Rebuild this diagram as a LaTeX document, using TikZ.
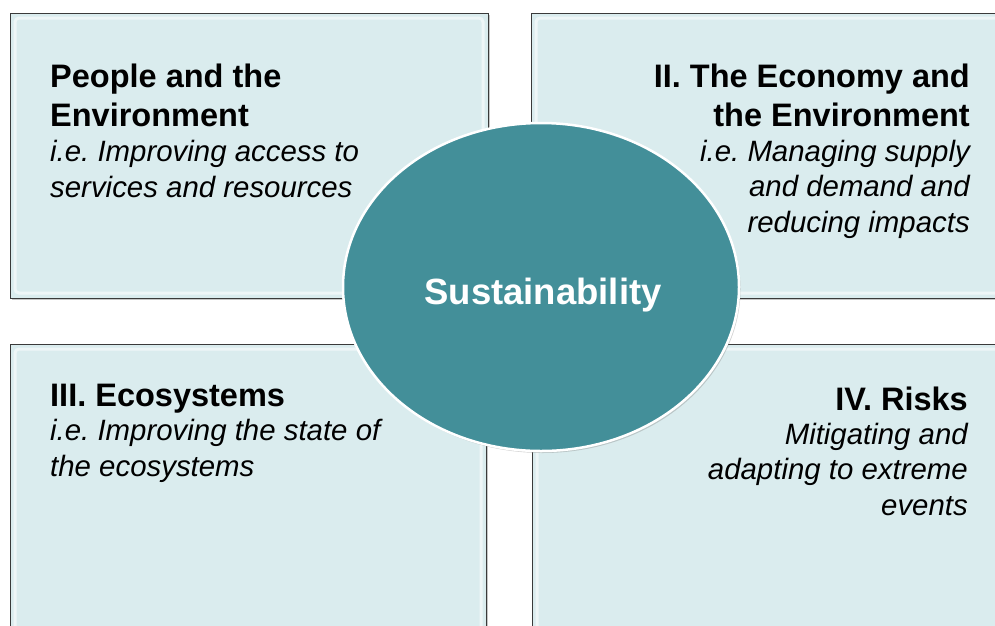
\documentclass[tikz,border=0pt]{standalone}
\usepackage{fontspec}
\setmainfont{Liberation Sans}
\usepackage{tikz}
\usetikzlibrary{positioning,shapes.geometric,shadows}
\definecolor{quadfill}{HTML}{DAECEE}
\definecolor{quadline}{HTML}{3A3A3A}
\definecolor{coreteal}{HTML}{438F99}

\begin{document}
\begin{tikzpicture}[
	x=1pt, y=-1pt,
	QuadBox/.style={draw=quadline,fill=quadfill,line width=1.2pt,inner sep=0pt,
		anchor=north west,
		drop shadow={shadow xshift=1.5pt,shadow yshift=-1.5pt,opacity=0.45}},
	QuadGlow/.style={draw=white,line width=3pt,opacity=0.55,rounded corners=4pt},
	CoreEllipse/.style={ellipse,draw=white,fill=coreteal,line width=2.5pt,inner sep=0pt,
		minimum width=396pt,minimum height=328pt,
		drop shadow={shadow xshift=1.5pt,shadow yshift=-2pt,opacity=0.35}},
	HeadText/.style={font=\frenchspacing\bfseries\fontsize{32.5}{38.7}\selectfont,inner sep=0pt},
	SubText/.style={font=\frenchspacing\itshape\fontsize{29.4}{35.2}\selectfont,inner sep=0pt},
	every node/.style={scale=1}
	]
	\useasboundingbox (0,0) rectangle (995,625);
	\clip (0,0) rectangle (995,625);
	
	% the four quadrants
	\node[QuadBox,minimum width=478pt,minimum height=285pt] (PeopleBox) at (10,13) {};
	\node[QuadBox,minimum width=475pt,minimum height=285pt] (EconomyBox) at (531,13) {};
	\node[QuadBox,minimum width=476pt,minimum height=300pt] (EcoBox) at (10,344) {};
	\node[QuadBox,minimum width=475pt,minimum height=300pt] (RisksBox) at (532,344) {};
	
	% soft bevel inside each quadrant
	\draw[QuadGlow] (15,18) rectangle (483,293);
	\draw[QuadGlow] (536,18) rectangle (1010,293);
	\draw[QuadGlow] (15,349) rectangle (481,650);
	\draw[QuadGlow] (537,349) rectangle (1010,650);
	
	% I.  (base = baseline of the last line)
	\node[HeadText,anchor=base west,align=left] (PeopleHead) at (50,126)
		{People and the\\Environment};
	\node[SubText,anchor=base west,align=left] (PeopleSub) at (50,197)
		{i.e. Improving access to\\services and resources};
	
	% II.
	\node[HeadText,anchor=base east,align=right] (EconomyHead) at (970,126)
		{II. The Economy and\\the Environment};
	\node[SubText,anchor=base east,align=right] (EconomySub) at (970,232)
		{i.e. Managing supply\\and demand and\\reducing impacts};
	
	% III.
	\node[HeadText,anchor=base west,align=left] (EcoHead) at (50,406)
		{III. Ecosystems};
	\node[SubText,anchor=base west,align=left] (EcoSub) at (50,476)
		{i.e. Improving the state of\\the ecosystems};
	
	% IV.
	\node[HeadText,anchor=base east,align=right] (RisksHead) at (968,410)
		{IV. Risks};
	\node[SubText,anchor=base east,align=right] (RisksSub) at (968,515)
		{Mitigating and\\adapting to extreme\\events};
	
	% centre
	\node[CoreEllipse] (Core) at (541,287) {};
	\node[font=\bfseries\fontsize{36.5}{40}\selectfont,text=white,anchor=base,inner sep=0pt]
		(CoreLabel) at (543,304) {Sustainability};
	
\end{tikzpicture}
\end{document}
